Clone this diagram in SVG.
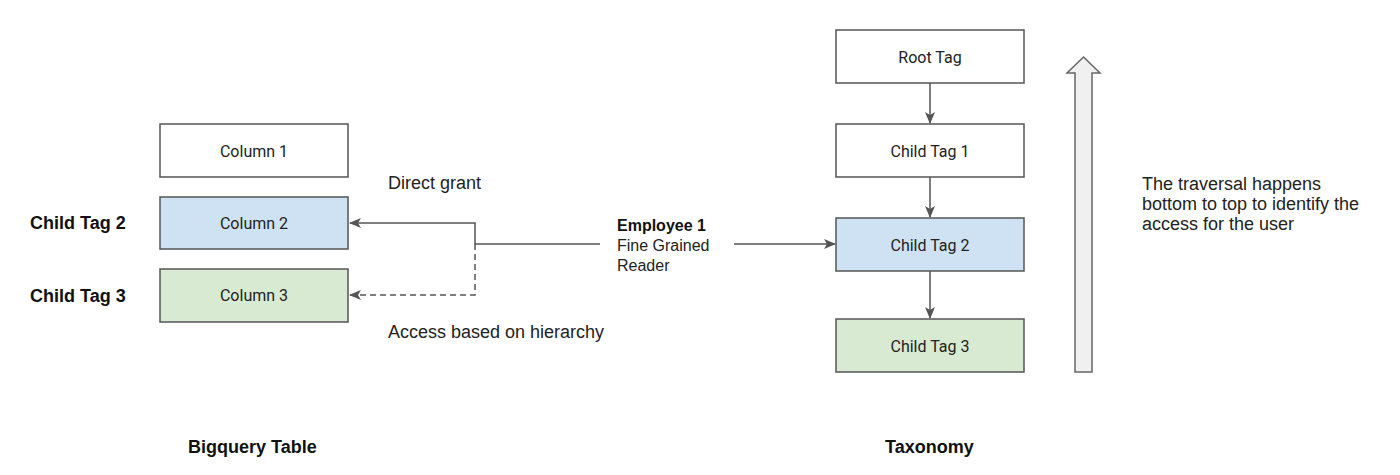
<svg xmlns="http://www.w3.org/2000/svg" width="1400" height="475" viewBox="0 0 1400 475">
<defs>
<marker id="ah" markerWidth="12" markerHeight="10" refX="11" refY="5" orient="auto" markerUnits="userSpaceOnUse">
<path d="M0,0 L12,5 L0,10 L3,5 Z" fill="#555"/>
</marker>
</defs>
<style>
.box{stroke:#555;stroke-width:1.5}
.bt{font-family:Roboto,"Liberation Sans",sans-serif;font-size:16px;fill:#222;text-anchor:middle;dominant-baseline:central}
.lbl{font-family:"Liberation Sans",Arial,sans-serif;font-size:18px;fill:#222}
.bold{font-weight:bold;fill:#111}
.con{fill:none;stroke:#555;stroke-width:1.5}
.dash{stroke-dasharray:6,4}
</style>
<rect width="1400" height="475" fill="#fff"/>
<g id="column1"><rect class="box" x="160" y="124" width="188" height="53" fill="#fff"/><text class="bt" x="254" y="151">Column 1</text></g>
<g id="column2"><rect class="box" x="160" y="197" width="188" height="52" fill="#cfe2f3"/><text class="bt" x="254" y="223">Column 2</text></g>
<g id="column3"><rect class="box" x="160" y="269" width="188" height="53" fill="#d9ead3"/><text class="bt" x="254" y="295">Column 3</text></g>
<g id="label-ct2"><text class="lbl bold" x="30" y="229">Child Tag 2</text></g>
<g id="label-ct3"><text class="lbl bold" x="30" y="302">Child Tag 3</text></g>
<g id="label-direct"><text class="lbl" x="388" y="189">Direct grant</text></g>
<g id="label-access"><text class="lbl" x="388" y="338">Access based on hierarchy</text></g>
<g id="employee"><text class="lbl" font-size="16" x="617" y="231"><tspan class="bold" font-size="16">Employee 1</tspan><tspan x="617" dy="20" font-size="16">Fine Grained</tspan><tspan x="617" dy="20" font-size="16">Reader</tspan></text></g>
<g id="root-tag"><rect class="box" x="836" y="30" width="188" height="53" fill="#fff"/><text class="bt" x="930" y="57">Root Tag</text></g>
<g id="child-tag1"><rect class="box" x="836" y="124" width="188" height="53" fill="#fff"/><text class="bt" x="930" y="151">Child Tag 1</text></g>
<g id="child-tag2"><rect class="box" x="836" y="218" width="188" height="53" fill="#cfe2f3"/><text class="bt" x="930" y="245">Child Tag 2</text></g>
<g id="child-tag3"><rect class="box" x="836" y="319" width="188" height="53" fill="#d9ead3"/><text class="bt" x="930" y="346">Child Tag 3</text></g>
<g id="traversal-arrow"><path d="M1075,372 L1075,73 L1067,73 L1083.5,57 L1100,73 L1092,73 L1092,372 Z" fill="#eff0ef" stroke="#666" stroke-width="1.5"/></g>
<g id="traversal-text"><text class="lbl" x="1142" y="190">The traversal happens<tspan x="1142" dy="20">bottom to top to identify the</tspan><tspan x="1142" dy="20">access for the user</tspan></text></g>
<g id="title-bq"><text class="lbl bold" x="188" y="453">Bigquery Table</text></g>
<g id="title-tax"><text class="lbl bold" x="885" y="453">Taxonomy</text></g>
<g id="connectors">
<path class="con" d="M600,244 L475,244 L475,223 L350,223" marker-end="url(#ah)"/>
<path class="con dash" d="M475,244 L475,295 L350,295" marker-end="url(#ah)"/>
<path class="con" d="M734,244 L835,244" marker-end="url(#ah)"/>
<path class="con" d="M930,83 L930,123" marker-end="url(#ah)"/>
<path class="con" d="M930,177 L930,217" marker-end="url(#ah)"/>
<path class="con" d="M930,271 L930,318" marker-end="url(#ah)"/>
</g>
</svg>
